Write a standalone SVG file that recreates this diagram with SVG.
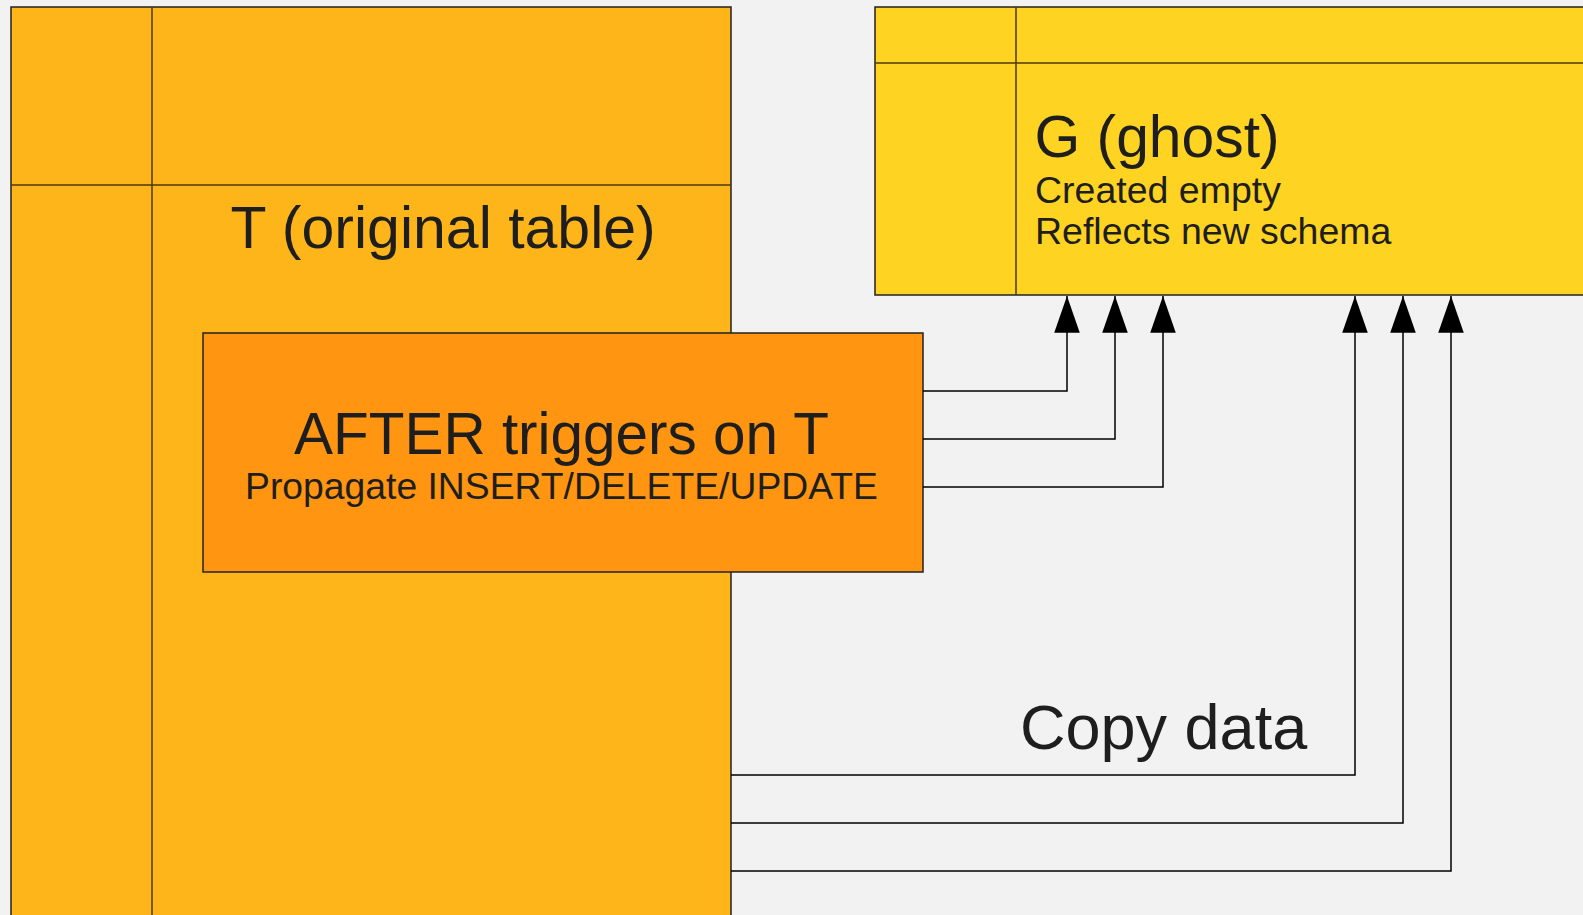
<svg xmlns="http://www.w3.org/2000/svg" width="1583" height="915" viewBox="0 0 1583 915">
  <style>
    .frame { stroke: #222; stroke-width: 1.5; }
    .grid { stroke: #4a3a10; stroke-width: 1.5; fill: none; }
    .wire { stroke: #000; stroke-width: 1.5; fill: none; }
    text { font-family: "Liberation Sans", Arial, sans-serif; fill: #1e1e1e; }
  </style>
  <defs>
    <marker id="head" markerUnits="userSpaceOnUse" markerWidth="40" markerHeight="30" viewBox="-34 -12 36 24" refX="0" refY="0" orient="auto">
      <path d="M0,0 L-33,-11.5 L-33,11.5 Z" fill="#000"/>
    </marker>
  </defs>

  <rect width="1583" height="915" fill="#f2f2f2"/>

  <!-- original table -->
  <g id="table-t">
    <rect class="frame" x="11" y="7" width="720" height="930" fill="#fdb51a"/>
    <line class="grid" x1="152" y1="7" x2="152" y2="915"/>
    <line class="grid" x1="11" y1="185" x2="731" y2="185"/>
    <text x="230.5" y="248.3" font-size="59">T (original table)</text>
  </g>

  <!-- ghost table -->
  <g id="table-g">
    <rect class="frame" x="875" y="7" width="730" height="288" fill="#ffd322"/>
    <line class="grid" x1="1016" y1="7" x2="1016" y2="295"/>
    <line class="grid" x1="875" y1="63" x2="1583" y2="63"/>
    <text x="1034.5" y="157" font-size="58.8">G (ghost)</text>
    <text x="1035" y="202.5" font-size="37.5">Created empty</text>
    <text x="1035" y="244" font-size="37.5">Reflects new schema</text>
  </g>

  <!-- trigger box -->
  <g id="triggers">
    <rect class="frame" x="203" y="333" width="720" height="239" fill="#ff9510"/>
    <text x="294" y="454" font-size="60" textLength="535" lengthAdjust="spacingAndGlyphs">AFTER triggers on T</text>
    <text x="245" y="498.5" font-size="37" textLength="633" lengthAdjust="spacingAndGlyphs">Propagate INSERT/DELETE/UPDATE</text>
  </g>

  <g id="copy-label">
    <text x="1020" y="749" font-size="63">Copy data</text>
  </g>

  <!-- connectors -->
  <g id="connectors">
    <path class="wire" d="M923,391 H1067 V296" marker-end="url(#head)"/>
    <path class="wire" d="M923,439 H1115 V296" marker-end="url(#head)"/>
    <path class="wire" d="M923,487 H1163 V296" marker-end="url(#head)"/>
    <path class="wire" d="M731,775 H1355 V296" marker-end="url(#head)"/>
    <path class="wire" d="M731,823 H1403 V296" marker-end="url(#head)"/>
    <path class="wire" d="M731,871 H1451 V296" marker-end="url(#head)"/>
  </g>
</svg>
